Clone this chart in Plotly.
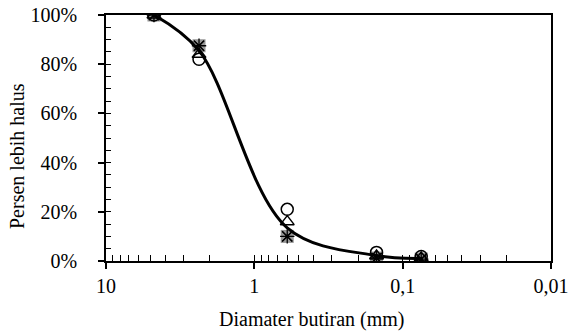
import plotly.graph_objects as go

# Sieve diameters (mm)
diameter = [4.75, 2.36, 0.6, 0.15, 0.075]
# Percent finer for each sample (fraction)
s_circle = [1.00, 0.82, 0.21, 0.035, 0.018]
s_triangle = [1.00, 0.84, 0.16, 0.02, 0.012]
s_square = [1.00, 0.875, 0.10, 0.012, 0.008]
s_x = [1.00, 0.875, 0.10, 0.012, 0.008]
s_star = [1.00, 0.875, 0.10, 0.012, 0.008]
# Smooth trend curve
curve = [1.00, 0.855, 0.135, 0.022, 0.010]

x_tickvals = [10, 1, 0.1, 0.01]
x_ticktext = ["10", "1", "0,1", "0,01"]
x_minor = [m * d for d in (1, 0.1, 0.01) for m in range(2, 10)]
y_tickvals = [0, 0.2, 0.4, 0.6, 0.8, 1.0]
y_ticktext = ["0%", "20%", "40%", "60%", "80%", "100%"]
y_minor = [i * 0.05 for i in range(21)]

FONT = "Liberation Serif"
FS = 20

fig = go.Figure()
fig.add_trace(go.Scatter(x=diameter, y=s_square, mode="markers",
                         marker=dict(symbol="square", size=13, color="rgb(150,150,150)",
                                     line=dict(width=0)), showlegend=False))
fig.add_trace(go.Scatter(x=diameter, y=s_circle, mode="markers",
                         marker=dict(symbol="circle-open", size=12, color="black",
                                     line=dict(width=1.5)), showlegend=False))
fig.add_trace(go.Scatter(x=diameter, y=s_triangle, mode="markers",
                         marker=dict(symbol="triangle-up-open", size=12, color="black",
                                     line=dict(width=1.5)), showlegend=False))
fig.add_trace(go.Scatter(x=diameter, y=s_x, mode="markers",
                         marker=dict(symbol="x-thin-open", size=10, color="black",
                                     line=dict(width=1.3)), showlegend=False))
fig.add_trace(go.Scatter(x=diameter, y=s_star, mode="markers",
                         marker=dict(symbol="asterisk-open", size=12, color="black",
                                     line=dict(width=1.3)), showlegend=False))
fig.add_trace(go.Scatter(x=diameter, y=curve, mode="lines",
                         line=dict(color="black", width=3, shape="spline", smoothing=1.0),
                         showlegend=False))
# invisible trace on overlay axes so their ticks render
fig.add_trace(go.Scatter(x=[1], y=[0.5], xaxis="x2", yaxis="y2", mode="markers",
                         marker=dict(opacity=0), showlegend=False, hoverinfo="skip"))

fig.update_layout(
    width=568, height=331,
    margin=dict(l=106, r=17, t=15, b=70),
    paper_bgcolor="white", plot_bgcolor="white",
    font=dict(family=FONT, size=FS, color="black"),
    xaxis=dict(type="log", range=[1, -2], tickvals=x_tickvals, ticktext=x_ticktext,
               ticks="outside", ticklen=6, tickwidth=1.5, tickcolor="black",
               ticklabelstandoff=0, automargin=False, ticklabeloverflow="allow",
               showgrid=False, zeroline=False, showline=True, linecolor="black",
               linewidth=1.5, mirror=True,
               tickfont=dict(family=FONT, size=FS)),
    yaxis=dict(range=[0, 1], tickvals=y_tickvals, ticktext=y_ticktext,
               ticks="outside", ticklen=6, tickwidth=1.5, tickcolor="black",
               ticklabelstandoff=17, automargin=False,
               showgrid=False, zeroline=False, showline=True, linecolor="black",
               linewidth=1.5, mirror=True,
               tickfont=dict(family=FONT, size=FS)),
    xaxis2=dict(type="log", range=[1, -2], overlaying="x", anchor="y",
                tickvals=x_tickvals + x_minor, ticks="inside", ticklen=6, tickwidth=1.2,
                tickcolor="black", showticklabels=False, showgrid=False,
                zeroline=False, showline=False, side="bottom", automargin=False),
    yaxis2=dict(range=[0, 1], overlaying="y", anchor="x", tickvals=y_minor,
                ticks="inside", ticklen=5, tickwidth=1.2, tickcolor="black",
                showticklabels=False, showgrid=False, zeroline=False,
                showline=False, side="left", automargin=False),
    annotations=[
        dict(text="Diamater butiran (mm)", xref="paper", yref="paper",
             x=(312 - 106) / 445, y=-(319 - 261) / 246, showarrow=False,
             xanchor="center", yanchor="middle", font=dict(family=FONT, size=FS)),
        dict(text="Persen lebih halus", xref="paper", yref="paper",
             x=-(106 - 17) / 445, y=(261 - 156) / 246, showarrow=False, textangle=-90,
             xanchor="center", yanchor="middle", font=dict(family=FONT, size=FS)),
    ],
)

fig.write_html("out.html")
